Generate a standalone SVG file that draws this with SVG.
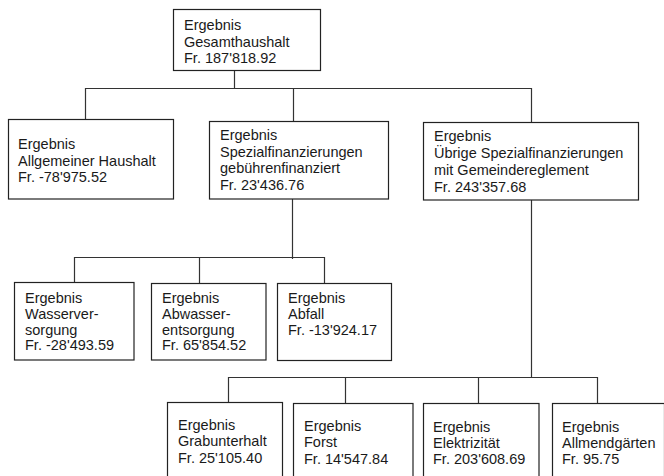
<svg xmlns="http://www.w3.org/2000/svg" width="664" height="476" viewBox="0 0 664 476">
<style>
.box{fill:#fff;stroke:#222;stroke-width:1.2}
.con{fill:none;stroke:#333;stroke-width:1.2}
text{font-family:"Liberation Sans",Arial,sans-serif;font-size:14.5px;fill:#1a1a1a}
</style>
<rect width="664" height="476" fill="#fff"/>
<g id="connectors">
<path class="con" d="M234.5 70.5V88.5M85.5 119V88.5H531.5V122M293.5 88.5V121"/>
<path class="con" d="M292.5 199V259M74.5 282V257.5H324.5V283M199.5 257.5V283"/>
<path class="con" d="M531.5 200V377.5M228.5 402V377.5H597.5V403M345.5 377.5V403M478.5 377.5V403"/>
</g>
<g id="n_gesamt">
<rect class="box" x="173.5" y="9.5" width="147" height="61"/>
<text x="184" y="29.5">Ergebnis</text>
<text x="184" y="46.5">Gesamthaushalt</text>
<text x="184" y="63.3">Fr. 187'818.92</text>
</g>
<g id="n_allgemein">
<rect class="box" x="8.5" y="119.5" width="165" height="79.5"/>
<text x="18" y="149">Ergebnis</text>
<text x="18" y="166">Allgemeiner Haushalt</text>
<text x="18" y="182">Fr. -78'975.52</text>
</g>
<g id="n_spezgeb">
<rect class="box" x="209.5" y="121.5" width="179" height="77.5"/>
<text x="220" y="140">Ergebnis</text>
<text x="220" y="156.5">Spezialfinanzierungen</text>
<text x="220" y="173">gebührenfinanziert</text>
<text x="220" y="189.5">Fr. 23'436.76</text>
</g>
<g id="n_uebrige">
<rect class="box" x="423.5" y="122.5" width="215" height="77.5"/>
<text x="434" y="140.7">Ergebnis</text>
<text x="434" y="158">Übrige Spezialfinanzierungen</text>
<text x="434" y="175">mit Gemeindereglement</text>
<text x="434" y="191.7">Fr. 243'357.68</text>
</g>
<g id="n_wasser">
<rect class="box" x="14.5" y="282.5" width="119.5" height="77.5"/>
<text x="25" y="303.3">Ergebnis</text>
<text x="25" y="319">Wasserver-</text>
<text x="25" y="334.5">sorgung</text>
<text x="25" y="350">Fr. -28'493.59</text>
</g>
<g id="n_abwasser">
<rect class="box" x="151.5" y="283.5" width="114.5" height="76.5"/>
<text x="162" y="303.3">Ergebnis</text>
<text x="162" y="319">Abwasser-</text>
<text x="162" y="334.5">entsorgung</text>
<text x="162" y="350">Fr. 65'854.52</text>
</g>
<g id="n_abfall">
<rect class="box" x="277.5" y="283.5" width="114" height="77"/>
<text x="288" y="303.3">Ergebnis</text>
<text x="288" y="319">Abfall</text>
<text x="288" y="335">Fr. -13'924.17</text>
</g>
<g id="n_grab">
<rect class="box" x="167.5" y="402.5" width="115" height="80"/>
<text x="178" y="429.5">Ergebnis</text>
<text x="178" y="446">Grabunterhalt</text>
<text x="178" y="463">Fr. 25'105.40</text>
</g>
<g id="n_forst">
<rect class="box" x="293.5" y="403.5" width="119.5" height="80"/>
<text x="304" y="431">Ergebnis</text>
<text x="304" y="447">Forst</text>
<text x="304" y="464">Fr. 14'547.84</text>
</g>
<g id="n_elektro">
<rect class="box" x="423.5" y="403.5" width="115.5" height="80"/>
<text x="433" y="432">Ergebnis</text>
<text x="433" y="447.5">Elektrizität</text>
<text x="433" y="463.5">Fr. 203'608.69</text>
</g>
<g id="n_allmend">
<rect class="box" x="552.5" y="403.5" width="112" height="80"/>
<text x="562" y="432">Ergebnis</text>
<text x="562" y="447.5">Allmendgärten</text>
<text x="562" y="463.5">Fr. 95.75</text>
</g>
</svg>
